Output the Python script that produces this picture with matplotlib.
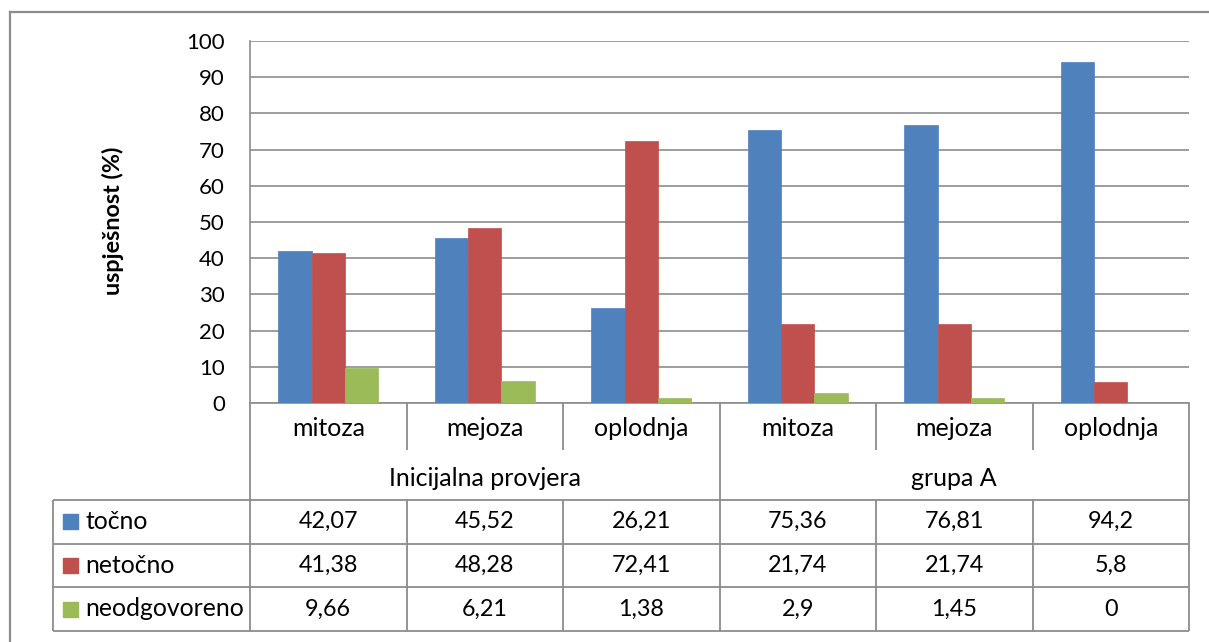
import numpy as np
import matplotlib
matplotlib.use("Agg")
import matplotlib.pyplot as plt

plt.rcParams['font.family'] = ['Lato', 'DejaVu Sans']

# podaci
kategorije = ['mitoza', 'mejoza', 'oplodnja', 'mitoza', 'mejoza', 'oplodnja']
grupe = ['Inicijalna provjera', 'grupa A']
serije = ['točno', 'netočno', 'neodgovoreno']
tocno = [42.07, 45.52, 26.21, 75.36, 76.81, 94.2]
netocno = [41.38, 48.28, 72.41, 21.74, 21.74, 5.8]
neodgovoreno = [9.66, 6.21, 1.38, 2.9, 1.45, 0]
tekst_tocno = ['42,07', '45,52', '26,21', '75,36', '76,81', '94,2']
tekst_netocno = ['41,38', '48,28', '72,41', '21,74', '21,74', '5,8']
tekst_neodg = ['9,66', '6,21', '1,38', '2,9', '1,45', '0']

boje = ['#4F81BD', '#C0504D', '#9BBB59']
siva = '#8C8C8C'

W, H = 1209, 642
lijevo, desno, vrh, dno = 250, 1189, 41, 403

fig = plt.figure(figsize=(W / 100, H / 100), dpi=100)

# pozadinski sloj u pikselima za tablicu i okvir
tab = fig.add_axes([0, 0, 1, 1], zorder=0)
tab.set_xlim(0, W)
tab.set_ylim(H, 0)
tab.axis('off')

ax = fig.add_axes([lijevo / W, 1 - dno / H, (desno - lijevo) / W, (dno - vrh) / H], zorder=1)
ax.patch.set_alpha(0)

x = np.arange(len(kategorije))
sirina = 0.213
for i, (vals, boja) in enumerate(zip([tocno, netocno, neodgovoreno], boje)):
    ax.bar(x + (i - 1) * sirina, vals, width=sirina, color=boja, edgecolor=boja,
           linewidth=0.5, zorder=3)

ax.set_xlim(-0.5, len(kategorije) - 0.5)
ax.set_ylim(0, 100)
ax.set_yticks(range(0, 101, 10))
ax.set_xticks([])
ax.yaxis.grid(True, color=siva, linewidth=1.2, zorder=0)
ax.tick_params(axis='y', length=0, pad=18, labelsize=16)
for s in ['top', 'right']:
    ax.spines[s].set_visible(False)
for s in ['left', 'bottom']:
    ax.spines[s].set_color(siva)
    ax.spines[s].set_linewidth(1.2)

fig.text(113 / W, 1 - 221 / H, 'uspješnost (%)', rotation=90, fontsize=16.8,
         fontweight='bold', ha='center', va='center')

# tablica s podacima
rubovi = lijevo + (desno - lijevo) * np.arange(len(kategorije) + 1) / len(kategorije)
sredine = (rubovi[:-1] + rubovi[1:]) / 2
tab_lijevo = 53
redovi = [500, 543.5, 587, 631]
lc = dict(color=siva, linewidth=1.3, solid_capstyle='butt')

for y in redovi:
    tab.plot([tab_lijevo, desno], [y, y], **lc)
tab.plot([tab_lijevo, tab_lijevo], [redovi[0], redovi[-1]], **lc)
for k, xr in enumerate(rubovi):
    if k in (0, 3, 6):
        tab.plot([xr, xr], [dno, redovi[-1]], **lc)
    else:
        tab.plot([xr, xr], [dno, 450], **lc)
        tab.plot([xr, xr], [redovi[0], redovi[-1]], **lc)

for xc, naziv in zip(sredine, kategorije):
    tab.text(xc, 428, naziv, fontsize=18, ha='center', va='center')
for g, naziv in enumerate(grupe):
    xc = (rubovi[3 * g] + rubovi[3 * g + 3]) / 2
    tab.text(xc, 478, naziv, fontsize=18, ha='center', va='center')

for r, (naziv, boja, tekst) in enumerate(zip(serije, boje,
                                             [tekst_tocno, tekst_netocno, tekst_neodg])):
    yc = (redovi[r] + redovi[r + 1]) / 2
    tab.add_patch(plt.Rectangle((63, yc - 7.5), 15, 15, color=boja))
    tab.text(85, yc, naziv, fontsize=17.8, ha='left', va='center')
    for xc, t in zip(sredine, tekst):
        tab.text(xc, yc, t, fontsize=16.8, ha='center', va='center')

# okvir grafikona
tab.plot([9.5, W], [12, 12], color=siva, linewidth=1.6)
tab.plot([9.5, 9.5], [12, H], color=siva, linewidth=1.6)

fig.savefig('out.png', dpi=100)
